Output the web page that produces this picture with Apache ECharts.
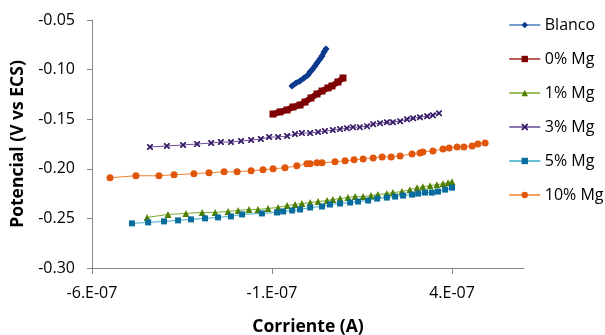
<!DOCTYPE html>
<html>
<head>
<meta charset="utf-8">
<script src="https://cdn.jsdelivr.net/npm/echarts@6/dist/echarts.min.js"></script>
<style>
  html, body { margin: 0; padding: 0; background: #fff; }
  #chart { width: 605px; height: 335px; }
</style>
</head>
<body>
<div id="chart"></div>
<script>
// tick positions
var xTicks = [-6e-7, -1e-7, 4e-7];
var yTicks = [-0.30, -0.25, -0.20, -0.15, -0.10, -0.05];

// series data [corriente, potencial]
var blanco = [
    [-0.444e-7, -0.1165], [-0.333e-7, -0.1135], [-0.222e-7, -0.1115], [-0.111e-7, -0.1085],
    [0, -0.1054], [0.056e-7, -0.1024], [0.111e-7, -0.1004], [0.194e-7, -0.0964],
    [0.25e-7, -0.0933], [0.333e-7, -0.0893], [0.389e-7, -0.0863], [0.444e-7, -0.0823],
    [0.5e-7, -0.0792]
];
var mg0 = [
    [-0.972e-7, -0.1448], [-0.778e-7, -0.1427], [-0.583e-7, -0.1407], [-0.417e-7, -0.1377],
    [-0.222e-7, -0.1357], [-0.083e-7, -0.1327], [0.083e-7, -0.1286], [0.25e-7, -0.1246],
    [0.389e-7, -0.1216], [0.556e-7, -0.1185], [0.667e-7, -0.1165], [0.833e-7, -0.1125],
    [0.972e-7, -0.1085]
];
var mg1 = [
    [-4.47e-7, -0.249], [-3.89e-7, -0.246], [-3.39e-7, -0.245], [-2.94e-7, -0.244],
    [-2.58e-7, -0.244], [-2.22e-7, -0.243], [-1.94e-7, -0.242], [-1.64e-7, -0.241],
    [-1.39e-7, -0.241], [-1.11e-7, -0.240], [-0.83e-7, -0.239], [-0.58e-7, -0.237],
    [-0.36e-7, -0.236], [-0.17e-7, -0.235], [0.06e-7, -0.234], [0.28e-7, -0.233],
    [0.53e-7, -0.232], [0.69e-7, -0.231], [0.89e-7, -0.230], [1.11e-7, -0.229],
    [1.31e-7, -0.228], [1.53e-7, -0.228], [1.75e-7, -0.227], [1.94e-7, -0.226],
    [2.19e-7, -0.225], [2.36e-7, -0.224], [2.61e-7, -0.223], [2.83e-7, -0.221],
    [3.03e-7, -0.219], [3.19e-7, -0.218], [3.39e-7, -0.217], [3.58e-7, -0.216],
    [3.75e-7, -0.215], [3.89e-7, -0.214], [4.00e-7, -0.213]
];
var mg3 = [
    [-4.39e-7, -0.178], [-3.92e-7, -0.177], [-3.47e-7, -0.176], [-3.08e-7, -0.175],
    [-2.69e-7, -0.174], [-2.42e-7, -0.173], [-2.14e-7, -0.173], [-1.86e-7, -0.172],
    [-1.58e-7, -0.171], [-1.31e-7, -0.170], [-1.08e-7, -0.168], [-0.83e-7, -0.168],
    [-0.58e-7, -0.167], [-0.36e-7, -0.165], [-0.17e-7, -0.164], [0.06e-7, -0.164],
    [0.28e-7, -0.163], [0.47e-7, -0.162], [0.69e-7, -0.161], [0.89e-7, -0.160],
    [1.08e-7, -0.159], [1.25e-7, -0.158], [1.44e-7, -0.158], [1.64e-7, -0.157],
    [1.81e-7, -0.155], [2.00e-7, -0.154], [2.19e-7, -0.153], [2.36e-7, -0.153],
    [2.56e-7, -0.152], [2.75e-7, -0.150], [2.92e-7, -0.149], [3.11e-7, -0.148],
    [3.31e-7, -0.147], [3.47e-7, -0.146], [3.64e-7, -0.144]
];
var mg5 = [
    [-4.89e-7, -0.255], [-4.44e-7, -0.254], [-4.00e-7, -0.253], [-3.61e-7, -0.252],
    [-3.25e-7, -0.251], [-2.86e-7, -0.250], [-2.50e-7, -0.249], [-2.14e-7, -0.248],
    [-1.83e-7, -0.246], [-1.28e-7, -0.245], [-0.86e-7, -0.244], [-0.69e-7, -0.243],
    [-0.44e-7, -0.242], [-0.22e-7, -0.241], [0.06e-7, -0.239], [0.39e-7, -0.238],
    [0.61e-7, -0.236], [0.89e-7, -0.235], [1.17e-7, -0.234], [1.39e-7, -0.233],
    [1.67e-7, -0.232], [1.92e-7, -0.230], [2.19e-7, -0.229], [2.42e-7, -0.228],
    [2.64e-7, -0.227], [2.89e-7, -0.226], [3.06e-7, -0.225], [3.25e-7, -0.224],
    [3.44e-7, -0.224], [3.61e-7, -0.223], [3.81e-7, -0.221], [4.00e-7, -0.219]
];
var mg10 = [
    [-5.50e-7, -0.209], [-4.78e-7, -0.207], [-4.14e-7, -0.207], [-3.72e-7, -0.206],
    [-3.17e-7, -0.205], [-2.75e-7, -0.204], [-2.33e-7, -0.203], [-1.97e-7, -0.203],
    [-1.58e-7, -0.202], [-1.25e-7, -0.201], [-0.97e-7, -0.200], [-0.64e-7, -0.199],
    [-0.31e-7, -0.197], [-0.03e-7, -0.195], [0.06e-7, -0.195], [0.25e-7, -0.194],
    [0.39e-7, -0.194], [0.75e-7, -0.193], [1.03e-7, -0.192], [1.28e-7, -0.191],
    [1.53e-7, -0.190], [1.81e-7, -0.189], [2.06e-7, -0.188], [2.31e-7, -0.188],
    [2.56e-7, -0.187], [2.89e-7, -0.185], [3.11e-7, -0.184], [3.19e-7, -0.183],
    [3.47e-7, -0.182], [3.75e-7, -0.180], [3.92e-7, -0.179], [4.14e-7, -0.178],
    [4.33e-7, -0.178], [4.56e-7, -0.177], [4.72e-7, -0.175], [4.92e-7, -0.174]
];

var font = '"Open Sans", "Noto Sans", sans-serif';
var xMark = 'path://M0,0 L2,0 L5,3 L8,0 L10,0 L10,2 L7,5 L10,8 L10,10 L8,10 L5,7 L2,10 L0,10 L0,8 L3,5 L0,2Z';

function mkSeries(name, data, symbol, size, mark, line, width) {
    return {
        name: name,
        type: 'line',
        data: data,
        symbol: symbol,
        symbolSize: size,
        showSymbol: true,
        itemStyle: { color: mark },
        lineStyle: { color: line, width: width, cap: 'round', join: 'round' },
        emphasis: { disabled: true }
    };
}

var chart = echarts.init(document.getElementById('chart'));

var option = {
    animation: false,
    textStyle: { fontFamily: font },
    grid: { left: 92, right: 81, top: 20, bottom: 67, containLabel: false, outerBoundsMode: 'none' },
    legend: {
        orient: 'vertical',
        left: 504,
        top: 12,
        itemWidth: 30,
        itemHeight: 8,
        itemGap: 18,
        textStyle: { fontFamily: font, fontSize: 16, color: '#000' },
        data: [
            { name: 'Blanco', lineStyle: { color: '#4A7EBB', width: 1.5 } },
            { name: '0% Mg', lineStyle: { color: '#A0282A', width: 1.5 } },
            { name: '1% Mg', lineStyle: { width: 1.5 } },
            { name: '3% Mg', lineStyle: { width: 1.5 } },
            { name: '5% Mg', lineStyle: { width: 1.5 } },
            { name: '10% Mg', lineStyle: { width: 1.5 } }
        ]
    },
    xAxis: {
        type: 'value',
        min: -6e-7,
        max: 6e-7,
        name: 'Corriente (A)',
        nameLocation: 'middle',
        nameGap: 50,
        nameTextStyle: { fontFamily: font, fontSize: 17.5, fontWeight: 'bold', color: '#000' },
        axisLine: { show: true, onZero: false, lineStyle: { color: '#868686', width: 1 } },
        axisTick: { show: true, length: 6, customValues: xTicks, lineStyle: { color: '#868686' } },
        axisLabel: {
            customValues: xTicks,
            margin: 17,
            fontSize: 16,
            color: '#000',
            formatter: function (v) {
                return Math.round(v * 1e7) + '.E-07';
            }
        },
        splitLine: { show: false }
    },
    yAxis: {
        type: 'value',
        min: -0.30,
        max: -0.05,
        name: 'Potencial (V vs ECS)',
        nameLocation: 'middle',
        nameGap: 53,
        nameTextStyle: { fontFamily: font, fontSize: 17.5, fontWeight: 'bold', color: '#000' },
        axisLine: { show: true, onZero: false, lineStyle: { color: '#868686', width: 1 } },
        axisTick: { show: true, length: 5, customValues: yTicks, lineStyle: { color: '#868686' } },
        axisLabel: {
            customValues: yTicks,
            margin: 17,
            fontSize: 16,
            color: '#000',
            formatter: function (v) { return v.toFixed(2); }
        },
        splitLine: { show: false }
    },
    series: [
        mkSeries('Blanco', blanco, 'diamond', 7, '#0B3A8E', '#0B3A8E', 5),
        mkSeries('0% Mg', mg0, 'rect', 7, '#7F0000', '#7F0000', 6),
        mkSeries('1% Mg', mg1, 'triangle', 7, '#4F7F00', '#7AAA30', 1),
        mkSeries('3% Mg', mg3, xMark, 6, '#361A66', '#6A4A9A', 1),
        mkSeries('5% Mg', mg5, 'rect', 6, '#0A6C9C', '#3AAACC', 1),
        mkSeries('10% Mg', mg10, 'circle', 7, '#E0560A', '#F0822E', 1)
    ]
};

chart.setOption(option);
</script>
</body>
</html>
